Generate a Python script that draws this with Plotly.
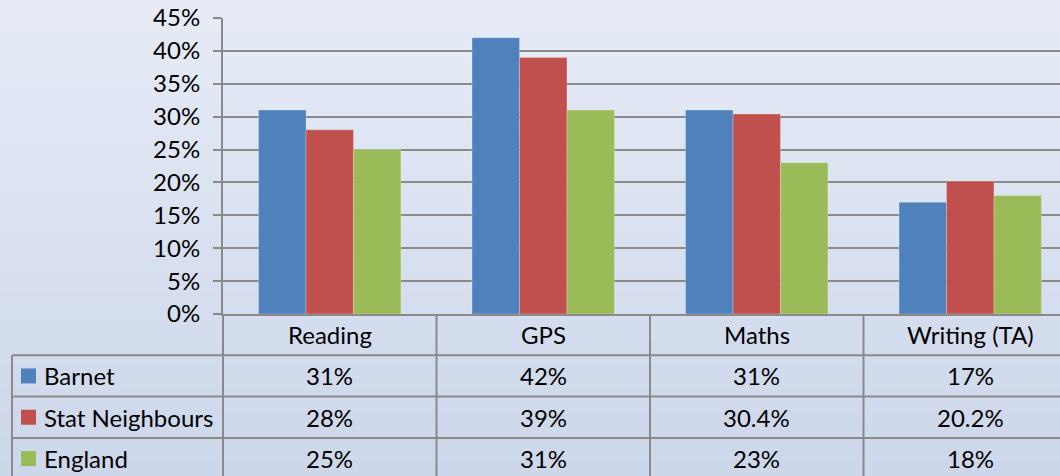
import plotly.graph_objects as go

categories = ["Reading", "GPS", "Maths", "Writing (TA)"]
series_names = ["Barnet", "Stat Neighbours", "England"]
barnet = [31, 42, 31, 17]
stat_neighbours = [28, 39, 30.4, 20.2]
england = [25, 31, 23, 18]
series_values = [barnet, stat_neighbours, england]
colors = ["#4F81BD", "#C0504D", "#9BBB59"]
y_ticks = [0, 5, 10, 15, 20, 25, 30, 35, 40, 45]
y_tick_labels = [f"{v}%" for v in y_ticks]

W, H = 1060, 476
ML, MR, MT, MB = 223, 0, 18, 162
PW, PH = W - ML - MR, H - MT - MB
CAT_PX = 213.5
FONT = "Lato"
GRID = "#8a8a8a"

def px_x(px):
    return (px - ML) / PW

def px_y(px):
    return (H - MB - px) / PH

fig = go.Figure()
for name, vals, col in zip(series_names, series_values, colors):
    fig.add_trace(go.Bar(
        x=list(range(len(categories))), y=vals, name=name,
        marker=dict(color=col, line=dict(color="rgba(255,255,255,0.25)", width=1)),
        showlegend=False, hoverinfo="skip"))

shapes = []
# background gradient
top = (230, 235, 246)
bot = (204, 215, 234)
n = 60
for i in range(n):
    t = i / (n - 1)
    c = tuple(round(top[k] + (bot[k] - top[k]) * t) for k in range(3))
    y0 = i * H / n
    y1 = (i + 1) * H / n + 1
    shapes.append(dict(type="rect", xref="paper", yref="paper",
                       x0=px_x(0), x1=px_x(W), y0=px_y(y1), y1=px_y(y0),
                       fillcolor="rgb(%d,%d,%d)" % c, line=dict(width=0), layer="below"))

# table geometry
zero_px = H - MB
row_h = 41.3
rows_px = [zero_px + row_h * k for k in range(5)]
line = dict(color=GRID, width=2)
for k in range(1, 4):
    shapes.append(dict(type="line", xref="paper", yref="paper",
                       x0=px_x(12), x1=1, y0=px_y(rows_px[k]), y1=px_y(rows_px[k]), line=line))
for b in range(len(categories) + 1):
    shapes.append(dict(type="line", xref="x", yref="paper",
                       x0=b - 0.5, x1=b - 0.5, y0=0, y1=px_y(H + 5), line=line))
shapes.append(dict(type="line", xref="paper", yref="paper",
                   x0=px_x(12), x1=px_x(12), y0=px_y(rows_px[1]), y1=px_y(H + 5), line=line))
shapes.append(dict(type="line", xref="paper", yref="paper",
                   x0=0, x1=0, y0=0, y1=px_y(H + 5), line=line))

annotations = []
fnt = dict(family=FONT, size=24, color="black")
for i, cat in enumerate(categories):
    annotations.append(dict(x=i, y=px_y((rows_px[0] + rows_px[1]) / 2), xref="x", yref="paper",
                            text=cat, showarrow=False, font=fnt, xanchor="center", yanchor="middle"))
for r, (name, vals, col) in enumerate(zip(series_names, series_values, colors)):
    yc = (rows_px[r + 1] + rows_px[r + 2]) / 2
    shapes.append(dict(type="rect", xref="paper", yref="paper",
                       x0=px_x(21), x1=px_x(36), y0=px_y(yc + 7.5), y1=px_y(yc - 7.5),
                       fillcolor=col, line=dict(width=0)))
    annotations.append(dict(x=px_x(42), y=px_y(yc), xref="paper", yref="paper", text=name,
                            showarrow=False, font=fnt, xanchor="left", yanchor="middle"))
    for i, v in enumerate(vals):
        annotations.append(dict(x=i, y=px_y(yc), xref="x", yref="paper", text=f"{v:g}%",
                                showarrow=False, font=fnt, xanchor="center", yanchor="middle"))

fig.update_layout(
    width=W, height=H, margin=dict(l=ML, r=MR, t=MT, b=MB),
    paper_bgcolor="rgb(217,225,240)", plot_bgcolor="rgba(0,0,0,0)",
    barmode="group", bargap=0.333, bargroupgap=0,
    shapes=shapes, annotations=annotations,
    font=dict(family=FONT, size=24, color="black"),
    xaxis=dict(range=[-0.5, -0.5 + PW / CAT_PX], showticklabels=False, showgrid=False,
               zeroline=False, showline=True, linecolor=GRID, linewidth=2, ticks=""),
    yaxis=dict(range=[0, 45], tickmode="array", tickvals=y_ticks, ticktext=y_tick_labels,
               showgrid=True, gridcolor=GRID, gridwidth=2, zeroline=False, showline=True,
               linecolor=GRID, linewidth=2, ticks="outside", ticklen=8, tickcolor=GRID,
               tickwidth=2, ticklabelstandoff=8, tickfont=fnt),
)

fig.write_html("out.html", config={"displayModeBar": False},
               post_script="document.body.style.margin='0px';document.body.style.overflow='hidden';")
